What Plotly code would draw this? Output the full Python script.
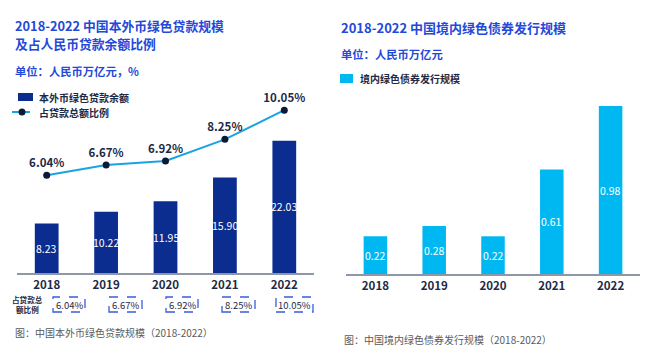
import plotly.graph_objects as go

# ---- data ----
years = ["2018", "2019", "2020", "2021", "2022"]
loan_balance = [8.23, 10.22, 11.95, 15.90, 22.03]      # 本外币绿色贷款余额 (万亿元)
loan_share = [6.04, 6.67, 6.92, 8.25, 10.05]           # 占贷款总额比例 (%)
bond_issuance = [0.22, 0.28, 0.22, 0.61, 0.98]         # 境内绿色债券发行规模 (万亿元)

W, H = 648, 347
FONT = "Noto Sans CJK SC"
NAVY = "#0b2d8f"
LINE_BLUE = "#1aa3e3"
SKY = "#00b8f1"
TITLE_BLUE = "#2349d8"
DARK = "#1e2a45"
GREY = "#5a5a5a"
AXIS_GREY = "#8e97a8"


def px(x):
    return x / W


def py(y):
    return 1 - y / H


fig = go.Figure()

# left panel: loans (bars) + share (line on secondary axis)
fig.add_trace(go.Bar(
    x=years, y=loan_balance, marker=dict(color=NAVY, line=dict(width=0)),
    xaxis="x", yaxis="y", showlegend=False, hoverinfo="x+y",
))
fig.add_trace(go.Scatter(
    x=years, y=loan_share, mode="lines+markers+text",
    line=dict(color=LINE_BLUE, width=2),
    marker=dict(color="#0c1a38", size=7),
    text=[f"<b>{v:.2f}%</b>" for v in loan_share],
    textposition="top center",
    textfont=dict(family=FONT, size=11.5, color=DARK),
    xaxis="x", yaxis="y2", showlegend=False, cliponaxis=False,
))

# right panel: bond issuance
fig.add_trace(go.Bar(
    x=years, y=bond_issuance, marker=dict(color=SKY, line=dict(width=0)),
    xaxis="x2", yaxis="y3", showlegend=False, hoverinfo="x+y",
))

annotations = []
shapes = []

# value labels centred inside the bars (category axes take the serial index)
for i, v in enumerate(loan_balance):
    annotations.append(dict(x=i, y=v / 2, xref="x", yref="y", text=f"{v:.2f}",
                            showarrow=False, font=dict(family=FONT, size=10.5, color="white")))
for i, v in enumerate(bond_issuance):
    annotations.append(dict(x=i, y=v / 2, xref="x2", yref="y3", text=f"{v:.2f}",
                            showarrow=False, font=dict(family=FONT, size=10.5, color="white")))


def text(x, y, s, size, color, xanchor="left", bold=False):
    annotations.append(dict(
        x=px(x), y=py(y), xref="paper", yref="paper",
        text=f"<b>{s}</b>" if bold else s, showarrow=False,
        xanchor=xanchor, yanchor="middle",
        font=dict(family=FONT, size=size, color=color),
    ))


# left headings
text(13, 25.5, "2018-2022 中国本外币绿色贷款规模", 12.8, TITLE_BLUE, bold=True)
text(13, 43.5, "及占人民币贷款余额比例", 12.8, TITLE_BLUE, bold=True)
text(13, 71, "单位：人民币万亿元，%", 11.3, TITLE_BLUE, bold=True)

# left legend
shapes.append(dict(type="rect", xref="paper", yref="paper",
                   x0=px(18), x1=px(33), y0=py(101), y1=py(93),
                   fillcolor=NAVY, line=dict(width=0)))
text(37, 97, "本外币绿色贷款余额", 10, DARK, bold=True)
shapes.append(dict(type="line", xref="paper", yref="paper",
                   x0=px(12), x1=px(30), y0=py(112), y1=py(112),
                   line=dict(color=LINE_BLUE, width=2)))
shapes.append(dict(type="circle", xref="paper", yref="paper",
                   x0=px(18.5), x1=px(25.5), y0=py(115.5), y1=py(108.5),
                   fillcolor="#0c1a38", line=dict(width=0)))
text(37, 112, "占贷款总额比例", 10, DARK, bold=True)

# share table under the left axis
text(27, 299, "占贷款总", 7.6, DARK, xanchor="center", bold=True)
text(27, 309.5, "额比例", 7.6, DARK, xanchor="center", bold=True)
box_centers = [69, 125.5, 182, 238.5, 294.5]
box_widths = [32, 33, 32, 33, 37]
for cx, bw, v in zip(box_centers, box_widths, loan_share):
    shapes.append(dict(type="rect", xref="paper", yref="paper",
                       x0=px(cx - bw / 2), x1=px(cx + bw / 2), y0=py(312), y1=py(297),
                       line=dict(color="#3a5cdc", width=1.3, dash="dash")))
    text(cx, 304.5, f"{v:.2f}%", 9.5, DARK, xanchor="center")

text(13, 332, "图：中国本外币绿色贷款规模（2018-2022）", 10, GREY)

# right headings
text(339, 27, "2018-2022 中国境内绿色债券发行规模", 13, TITLE_BLUE, bold=True)
text(339, 54, "单位：人民币万亿元", 11.3, TITLE_BLUE, bold=True)
shapes.append(dict(type="rect", xref="paper", yref="paper",
                   x0=px(340), x1=px(353), y0=py(83), y1=py(74),
                   fillcolor=SKY, line=dict(width=0)))
text(358, 78.5, "境内绿色债券发行规模", 10, DARK, bold=True)
text(342, 339.5, "图：中国境内绿色债券发行规模（2018-2022）", 10, GREY)

xaxis_common = dict(
    type="category", range=[-0.5, len(years) - 0.5],
    showline=True, linecolor=AXIS_GREY, linewidth=1.5,
    showgrid=False, zeroline=False, ticks="", fixedrange=True,
    tickmode="array", tickvals=years, ticktext=[f"<b>{y}</b>" for y in years],
    tickfont=dict(family=FONT, size=11.5, color=DARK),
)
yaxis_common = dict(visible=False, showgrid=False, zeroline=False, fixedrange=True)

fig.update_layout(
    width=W, height=H,
    margin=dict(l=0, r=0, t=0, b=0),
    paper_bgcolor="white", plot_bgcolor="white",
    bargap=0.6,
    showlegend=False,
    xaxis=dict(domain=[px(17), px(314)], anchor="y", **xaxis_common),
    yaxis=dict(domain=[py(273), py(103)], range=[0, 170 / 6.0], anchor="x", **yaxis_common),
    yaxis2=dict(domain=[py(273), py(103)], range=[0, 170 / 16.2], overlaying="y",
                anchor="x", **yaxis_common),
    xaxis2=dict(domain=[px(346), px(640)], anchor="y3", **xaxis_common),
    yaxis3=dict(domain=[py(274), py(100)], range=[0, 174 / 171.4], anchor="x2", **yaxis_common),
    annotations=annotations,
    shapes=shapes,
    font=dict(family=FONT),
)

fig.write_html("out.html")
